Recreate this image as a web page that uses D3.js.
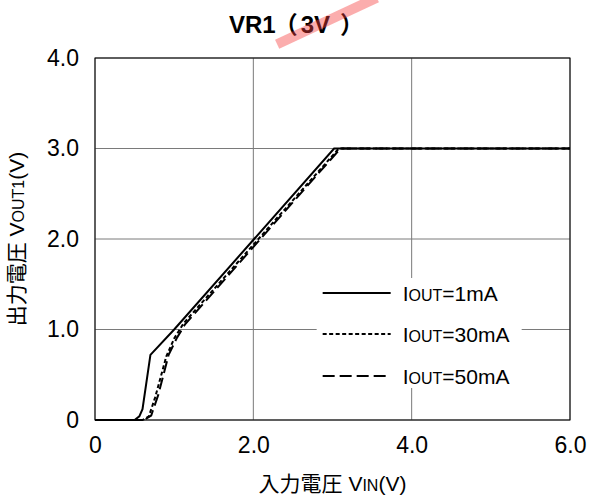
<!DOCTYPE html>
<html>
<head>
<meta charset="utf-8">
<script src="https://cdn.jsdelivr.net/npm/d3@7"></script>
<style>
  body { margin: 0; background: #fff; }
  svg text { font-family: "Liberation Sans", Arial, "Noto Sans CJK JP", sans-serif; fill: #000; }
</style>
</head>
<body>
<svg id="chart" width="592" height="500"></svg>
<script>
// data (V_IN, V_OUT1)
const vin1mA = [0, 0.5, 0.56, 0.6, 0.7, 1.0, 3.02, 6.0];
const vout1mA = [0, 0, 0.04, 0.12, 0.72, 1.0, 3.0, 3.0];
const vin30mA = [0, 0.6, 0.68, 0.76, 0.9, 1.0, 1.12, 3.08, 6.0];
const vout30mA = [0, 0, 0.04, 0.25, 0.7, 0.9, 1.07, 3.0, 3.0];
const vin50mA = [0, 0.62, 0.71, 0.8, 0.93, 1.03, 1.14, 3.1, 6.0];
const vout50mA = [0, 0, 0.05, 0.28, 0.72, 0.9, 1.06, 3.0, 3.0];
const seriesNames = ['1mA', '30mA', '50mA'];
const xTicks = [0, 2, 4, 6];
const yTicks = [0, 1, 2, 3, 4];

const series = [
  { name: seriesNames[0], x: vin1mA, y: vout1mA },
  { name: seriesNames[1], x: vin30mA, y: vout30mA },
  { name: seriesNames[2], x: vin50mA, y: vout50mA },
];
const dash = { '1mA': null, '30mA': '4,2.5', '50mA': '12,5' };

const margin = { top: 58, right: 22, bottom: 80, left: 95 };
const width = 592;
const height = 500;

const svg = d3.select('#chart');

const x = d3.scaleLinear().domain([0, 6]).range([margin.left, width - margin.right]);
const y = d3.scaleLinear().domain([0, 4]).range([height - margin.bottom, margin.top]);
const fmt = d => (d === 0 ? '0' : d.toFixed(1));

// grid
svg.append('g')
  .selectAll('line')
  .data(xTicks)
  .enter()
  .append('line')
  .attr('x1', d => x(d)).attr('x2', d => x(d))
  .attr('y1', y(0)).attr('y2', y(4))
  .attr('stroke', '#7a7a7a')
  .attr('stroke-width', 1);
svg.append('g')
  .selectAll('line')
  .data(yTicks)
  .enter()
  .append('line')
  .attr('x1', x(0)).attr('x2', x(6))
  .attr('y1', d => y(d)).attr('y2', d => y(d))
  .attr('stroke', '#7a7a7a')
  .attr('stroke-width', 1);

// legend background (hides grid)
const lg = svg.append('g').attr('transform', `translate(${x(2.8)},0)`);
lg.append('rect')
  .attr('x', 0).attr('y', 278)
  .attr('width', 205).attr('height', 110)
  .attr('fill', '#fff');

// frame
svg.append('rect')
  .attr('x', x(0)).attr('y', y(4))
  .attr('width', x(6) - x(0)).attr('height', y(0) - y(4))
  .attr('fill', 'none')
  .attr('stroke', '#000')
  .attr('stroke-width', 1);

// axes labels
const xAxis = svg.append('g')
  .attr('transform', `translate(0,${y(0) + 14})`)
  .call(d3.axisBottom(x).tickValues(xTicks).tickFormat(fmt).tickSize(0));
xAxis.select('.domain').remove();
xAxis.selectAll('text').attr('font-size', 23).attr('font-family', null).attr('dy', '0.71em');

const yAxis = svg.append('g')
  .attr('transform', `translate(${x(0) - 13},0)`)
  .call(d3.axisLeft(y).tickValues(yTicks).tickFormat(fmt).tickSize(0));
yAxis.select('.domain').remove();
yAxis.selectAll('text').attr('font-size', 23).attr('font-family', null);

// curves
const line = d3.line().x(d => x(d[0])).y(d => y(d[1]));
svg.append('g')
  .selectAll('path')
  .data(series)
  .enter()
  .append('path')
  .attr('d', s => line(s.x.map((v, i) => [v, s.y[i]])))
  .attr('fill', 'none')
  .attr('stroke', '#000')
  .attr('stroke-width', 2)
  .attr('stroke-dasharray', s => dash[s.name]);

// legend
const legendY = [293, 334, 376];
series.forEach((s, i) => {
  lg.append('line')
    .attr('x1', 6).attr('x2', 74)
    .attr('y1', legendY[i]).attr('y2', legendY[i])
    .attr('stroke', '#000')
    .attr('stroke-width', 2)
    .attr('stroke-dasharray', dash[s.name]);
  const t = lg.append('text')
    .attr('x', 86).attr('y', legendY[i] + 8)
    .attr('font-size', 21);
  t.append('tspan').text('I');
  t.append('tspan').attr('font-size', 16).text('OUT');
  t.append('tspan').text('=' + s.name);
});

// titles
const title = svg.append('text')
  .attr('x', 229).attr('y', 33)
  .attr('font-size', 24)
  .attr('font-weight', 'bold');
title.append('tspan').text('VR1');
title.append('tspan').attr('dx', -2).text('（');
title.append('tspan').attr('dx', 3).text('3V');
title.append('tspan').attr('dx', 10).text('）');

const xt = svg.append('text')
  .attr('x', (x(0) + x(6)) / 2).attr('y', 491)
  .attr('text-anchor', 'middle')
  .attr('font-size', 21);
xt.append('tspan').text('入力電圧 V');
xt.append('tspan').attr('font-size', 16).text('IN');
xt.append('tspan').text('(V)');

const yt = svg.append('text')
  .attr('transform', `translate(24,${(y(0) + y(4)) / 2}) rotate(-90)`)
  .attr('text-anchor', 'middle')
  .attr('font-size', 21);
yt.append('tspan').text('出力電圧 V');
yt.append('tspan').attr('font-size', 16).text('OUT1');
yt.append('tspan').text('(V)');

// red stripe over the title
svg.append('rect')
  .attr('x', -55).attr('y', -5)
  .attr('width', 110).attr('height', 10)
  .attr('transform', 'translate(327,21) rotate(-25)')
  .attr('fill', 'rgba(245,60,60,0.42)');
</script>
</body>
</html>
